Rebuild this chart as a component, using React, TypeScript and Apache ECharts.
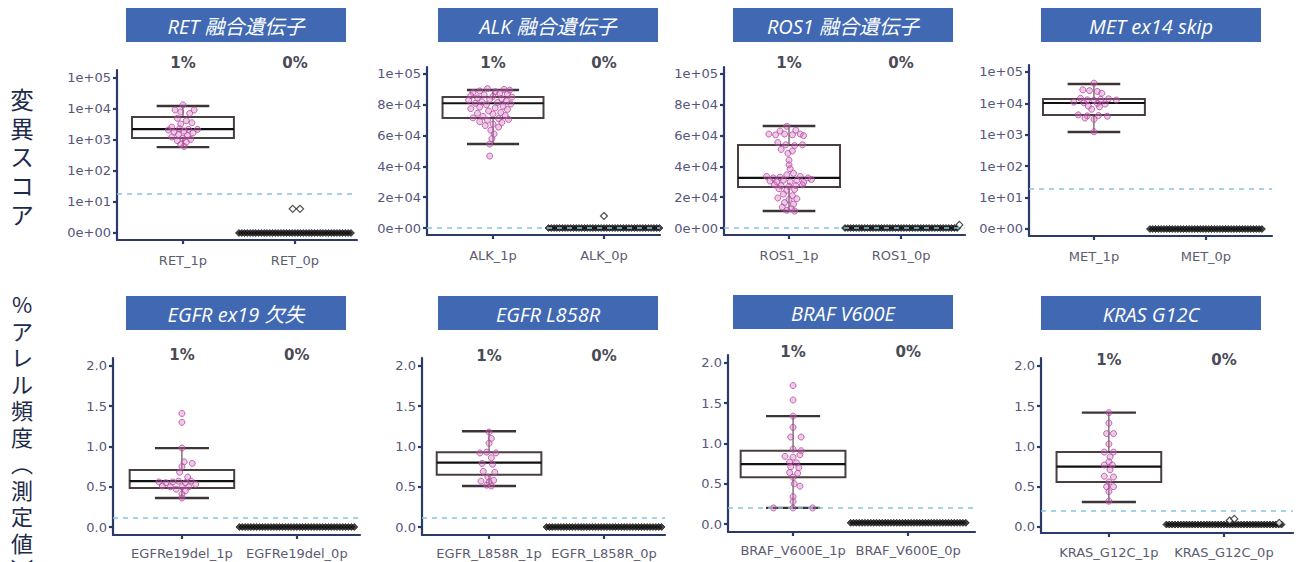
import React, { useEffect, useRef } from "react";
import * as echarts from "echarts";

// ---------- tick values ----------
const LOG_TICKS = [1, 10, 100, 1000, 10000, 100000];
const LIN_TICKS = [0, 20000, 40000, 60000, 80000, 100000];
const AF_TICKS = [0, 0.5, 1, 1.5, 2];
const PCT_LABELS = ["1%", "0%"];

// ---------- titles / labels ----------
const TITLES = [
  "RET 融合遺伝子",
  "ALK 融合遺伝子",
  "ROS1 融合遺伝子",
  "MET ex14 skip",
  "EGFR ex19 欠失",
  "EGFR L858R",
  "BRAF V600E",
  "KRAS G12C",
];
const Y_LABEL_TOP = "変異スコア";
const Y_LABEL_BOTTOM = "%アレル頻度︵測定値︶";

// ---------- categories ----------
const RET_CATS = ["RET_1p", "RET_0p"];
const ALK_CATS = ["ALK_1p", "ALK_0p"];
const ROS1_CATS = ["ROS1_1p", "ROS1_0p"];
const MET_CATS = ["MET_1p", "MET_0p"];
const EGFR19_CATS = ["EGFRe19del_1p", "EGFRe19del_0p"];
const L858R_CATS = ["EGFR_L858R_1p", "EGFR_L858R_0p"];
const BRAF_CATS = ["BRAF_V600E_1p", "BRAF_V600E_0p"];
const KRAS_CATS = ["KRAS_G12C_1p", "KRAS_G12C_0p"];

// ---------- box stats: [min, q1, median, q3, max] of the 1p group ----------
const RET_BOX = [590, 1150, 2250, 5500, 12500];
const ALK_BOX = [54500, 71400, 81000, 85000, 89600];
const ROS1_BOX = [11000, 26600, 32500, 53900, 66200];
const MET_BOX = [1230, 4300, 10300, 13800, 41500];
const EGFR19_BOX = [0.36, 0.485, 0.57, 0.708, 0.98];
const L858R_BOX = [0.51, 0.65, 0.8, 0.93, 1.19];
const BRAF_BOX = [0.2, 0.58, 0.745, 0.91, 1.34];
const KRAS_BOX = [0.31, 0.56, 0.75, 0.93, 1.42];

// ---------- detection cut-offs ----------
const RET_CUTOFF = 18;
const ALK_CUTOFF = 0;
const ROS1_CUTOFF = 0;
const MET_CUTOFF = 19;
const EGFR19_CUTOFF = 0.12;
const L858R_CUTOFF = 0.12;
const BRAF_CUTOFF = 0.2;
const KRAS_CUTOFF = 0.2;

// ---------- 1p points: [jitter, value] ----------
const RET_1P = [
  [0.0, 13500], [-0.07, 9300], [0.1, 9300], [-0.02, 8000], [0.06, 7200], [-0.05, 5000],
  [0.03, 4200], [-0.02, 3300], [0.08, 3600], [-0.1, 2600], [-0.03, 2300], [0.05, 2200],
  [0.13, 2200], [-0.13, 2100], [0.01, 1950], [-0.08, 1800], [0.09, 1700], [-0.04, 1500],
  [0.04, 1400], [-0.1, 1250], [0.0, 1150], [0.07, 1050], [-0.05, 950], [0.03, 850],
  [-0.02, 720], [0.01, 620],
];
const ALK_1P = [
  [-0.05, 90500], [0.1, 90000], [0.15, 89500], [-0.12, 89000], [0.02, 88500], [-0.18, 88000],
  [0.06, 87500], [0.13, 87000], [-0.08, 86500], [-0.2, 86000], [0.0, 85500], [0.17, 85000],
  [-0.14, 84500], [0.08, 84000], [-0.03, 83500], [-0.22, 83000], [0.12, 82500], [-0.1, 82000],
  [0.04, 81500], [-0.16, 81000], [0.16, 80500], [-0.06, 80000], [0.09, 79000], [-0.12, 78500],
  [0.02, 78000], [-0.2, 77500], [0.13, 77000], [-0.04, 76000], [0.07, 75000], [-0.14, 74500],
  [0.0, 74000], [0.11, 73000], [-0.09, 72500], [-0.18, 71500], [0.05, 71000], [0.14, 70500],
  [-0.05, 70000], [-0.12, 69000], [0.08, 68500], [0.0, 67500], [-0.07, 66500], [0.05, 65500],
  [-0.02, 63500], [0.01, 61000], [-0.01, 58000], [-0.03, 54500], [-0.03, 46700],
];
const ROS1_1P = [
  [-0.02, 66000], [-0.08, 63000], [0.06, 63500], [-0.18, 61000], [-0.12, 60500], [-0.04, 61000],
  [0.03, 60500], [0.1, 61000], [0.13, 60000], [-0.1, 55500], [-0.03, 54000], [0.05, 53500],
  [0.12, 54000], [-0.07, 51000], [0.03, 50000], [-0.01, 48500], [0.0, 44000], [0.0, 41000],
  [0.01, 38500], [-0.2, 33500], [-0.14, 32500], [-0.08, 33000], [-0.02, 34500], [0.04, 35500],
  [0.1, 33500], [0.17, 32500], [0.2, 31500], [-0.17, 30500], [-0.11, 30000], [-0.05, 31000],
  [0.01, 30000], [0.07, 31000], [0.13, 29500], [-0.13, 28000], [-0.07, 27500], [0.0, 27000],
  [0.06, 27500], [0.12, 28000], [-0.09, 25500], [-0.02, 24500], [0.05, 25000], [-0.05, 22000],
  [0.03, 21000], [-0.1, 19500], [0.0, 18500], [0.07, 19000], [-0.04, 16500], [0.04, 15500],
  [-0.06, 13500], [0.02, 12500], [-0.02, 11500], [0.05, 11000],
];
const MET_1P = [
  [0.0, 44000], [-0.1, 27000], [-0.04, 25500], [0.03, 24000], [0.07, 21000], [-0.12, 14500],
  [-0.06, 13000], [0.0, 12500], [0.06, 13500], [0.13, 14000], [0.2, 12800], [-0.18, 11000],
  [-0.09, 10500], [0.03, 10000], [0.1, 9500], [-0.05, 8200], [0.05, 7800], [-0.02, 6500],
  [-0.14, 4300], [-0.06, 4000], [0.04, 4100], [0.12, 3900], [0.0, 3100], [-0.08, 3400],
  [0.0, 1250],
];
const EGFR19_1P = [
  [0.0, 1.41], [0.0, 1.3], [0.0, 0.98], [0.02, 0.81], [0.09, 0.79], [0.0, 0.75], [-0.02, 0.68],
  [0.05, 0.62], [-0.2, 0.56], [-0.14, 0.55], [-0.08, 0.56], [-0.03, 0.57], [0.03, 0.55],
  [0.08, 0.57], [0.12, 0.53], [-0.17, 0.51], [-0.1, 0.5], [0.0, 0.5], [0.06, 0.5],
  [-0.05, 0.47], [0.03, 0.45], [0.0, 0.41], [0.0, 0.36],
];
const L858R_1P = [
  [0.0, 1.18], [0.02, 1.1], [0.0, 1.04], [-0.08, 0.92], [-0.02, 0.93], [0.06, 0.92],
  [0.02, 0.86], [-0.06, 0.79], [0.03, 0.78], [-0.05, 0.69], [0.05, 0.68], [-0.01, 0.62],
  [-0.07, 0.57], [0.0, 0.56], [0.04, 0.58], [-0.02, 0.52], [0.02, 0.51],
];
const BRAF_1P = [
  [0.0, 1.72], [0.0, 1.54], [0.0, 1.34], [0.0, 1.2], [-0.02, 1.08], [0.07, 1.08], [0.0, 0.93],
  [0.07, 0.91], [-0.07, 0.84], [0.0, 0.83], [0.06, 0.86], [-0.03, 0.77], [0.03, 0.76],
  [-0.02, 0.71], [0.05, 0.7], [-0.03, 0.64], [0.04, 0.63], [0.0, 0.58], [0.01, 0.5],
  [0.06, 0.47], [0.0, 0.34], [0.0, 0.28], [-0.17, 0.2], [0.0, 0.2], [0.17, 0.2],
];
const KRAS_1P = [
  [0.0, 1.42], [0.0, 1.29], [-0.02, 1.16], [0.04, 1.16], [0.0, 1.03], [-0.04, 0.93],
  [0.04, 0.93], [0.01, 0.87], [0.0, 0.81], [-0.04, 0.77], [0.03, 0.77], [0.01, 0.71],
  [-0.04, 0.63], [0.04, 0.62], [0.0, 0.56], [-0.02, 0.5], [0.04, 0.5], [0.0, 0.44], [0.0, 0.32],
];

// ---------- 0p group: a dense row of samples at the floor value, plus a few above ----------
const ZERO_ROW_JITTER = [
  -0.5, -0.475, -0.45, -0.425, -0.4, -0.375, -0.35, -0.325, -0.3, -0.275, -0.25, -0.225, -0.2,
  -0.175, -0.15, -0.125, -0.1, -0.075, -0.05, -0.025, 0, 0.025, 0.05, 0.075, 0.1, 0.125, 0.15,
  0.175, 0.2, 0.225, 0.25, 0.275, 0.3, 0.325, 0.35, 0.375, 0.4, 0.425, 0.45, 0.475, 0.5,
];
const RET_0P_LEVEL = 0;
const ALK_0P_LEVEL = 0;
const ROS1_0P_LEVEL = 0;
const MET_0P_LEVEL = 0;
const EGFR19_0P_LEVEL = 0;
const L858R_0P_LEVEL = 0;
const BRAF_0P_LEVEL = 0.015;
const KRAS_0P_LEVEL = 0.03;
const RET_0P_EXTRA = [[-0.02, 6], [0.045, 6]];
const ALK_0P_EXTRA = [[0.0, 7800]];
const ROS1_0P_EXTRA = [[0.52, 2000]];
const MET_0P_EXTRA: number[][] = [];
const EGFR19_0P_EXTRA: number[][] = [];
const L858R_0P_EXTRA: number[][] = [];
const BRAF_0P_EXTRA: number[][] = [];
const KRAS_0P_EXTRA = [[0.05, 0.08], [0.09, 0.1], [0.48, 0.05]];

// ---------- layout (pixels) & styling ----------
const AXIS_COLOR = "#2b3a67";
const TICK_LABEL_COLOR = "#56567a";
const CAT_LABEL_COLOR = "#5c5c70";
const HEAD_COLOR = "#4169b3";
const BOX_HALF = 0.455;
const CAP_HALF = 0.235;

type Panel = {
  cats: string[]; pct: boolean; scale: "log" | "lin" | "af";
  box: number[]; pts: number[][]; level: number; extra: number[][]; cutoff: number;
  grid: { left: number; top: number; width: number; height: number };
  x: [number, number]; y: [number, number]; head: [number, number]; pctMargin: number; catMargin: number;
};

const PANELS: Panel[] = [
  { cats: RET_CATS, pct: true, scale: "log", box: RET_BOX, pts: RET_1P, level: RET_0P_LEVEL, extra: RET_0P_EXTRA, cutoff: RET_CUTOFF,
    grid: { left: 117, top: 70, width: 240, height: 170 }, x: [-0.589, 1.554], y: [0.5944, 181000], head: [126, 8], pctMargin: -0.5, catMargin: 14 },
  { cats: ALK_CATS, pct: true, scale: "lin", box: ALK_BOX, pts: ALK_1P, level: ALK_0P_LEVEL, extra: ALK_0P_EXTRA, cutoff: ALK_CUTOFF,
    grid: { left: 427, top: 67, width: 233, height: 168 }, x: [-0.595, 1.505], y: [-4545, 104545], head: [438, 8], pctMargin: -3.5, catMargin: 14 },
  { cats: ROS1_CATS, pct: true, scale: "lin", box: ROS1_BOX, pts: ROS1_1P, level: ROS1_0P_LEVEL, extra: ROS1_0P_EXTRA, cutoff: ROS1_CUTOFF,
    grid: { left: 724, top: 67, width: 241, height: 168 }, x: [-0.58, 1.57], y: [-4545, 104545], head: [733, 8], pctMargin: -3.5, catMargin: 14 },
  { cats: MET_CATS, pct: false, scale: "log", box: MET_BOX, pts: MET_1P, level: MET_0P_LEVEL, extra: MET_0P_EXTRA, cutoff: MET_CUTOFF,
    grid: { left: 1029, top: 65, width: 243, height: 171 }, x: [-0.58, 1.59], y: [0.598, 167000], head: [1041, 8], pctMargin: 0, catMargin: 14 },
  { cats: EGFR19_CATS, pct: true, scale: "af", box: EGFR19_BOX, pts: EGFR19_1P, level: EGFR19_0P_LEVEL, extra: EGFR19_0P_EXTRA, cutoff: EGFR19_CUTOFF,
    grid: { left: 113, top: 358, width: 247, height: 177 }, x: [-0.6, 1.55], y: [-0.099, 2.099], head: [126, 296], pctMargin: -4.5, catMargin: 12 },
  { cats: L858R_CATS, pct: true, scale: "af", box: L858R_BOX, pts: L858R_1P, level: L858R_0P_LEVEL, extra: L858R_0P_EXTRA, cutoff: L858R_CUTOFF,
    grid: { left: 422, top: 358, width: 243, height: 177 }, x: [-0.583, 1.53], y: [-0.099, 2.099], head: [438, 296], pctMargin: -5.5, catMargin: 12 },
  { cats: BRAF_CATS, pct: true, scale: "af", box: BRAF_BOX, pts: BRAF_1P, level: BRAF_0P_LEVEL, extra: BRAF_0P_EXTRA, cutoff: BRAF_CUTOFF,
    grid: { left: 728, top: 355, width: 247, height: 177 }, x: [-0.565, 1.58], y: [-0.099, 2.099], head: [733, 295], pctMargin: -4.5, catMargin: 12 },
  { cats: KRAS_CATS, pct: true, scale: "af", box: KRAS_BOX, pts: KRAS_1P, level: KRAS_0P_LEVEL, extra: KRAS_0P_EXTRA, cutoff: KRAS_CUTOFF,
    grid: { left: 1041, top: 358, width: 252, height: 175 }, x: [-0.59, 1.6], y: [-0.075, 2.099], head: [1041, 296], pctMargin: -9.5, catMargin: 13 },
];

function sciLabel(v: number, isLog: boolean): string {
  if (v === 0 || (isLog && Math.abs(v - 1) < 1e-9)) return "0e+00";
  const e = Math.floor(Math.log10(v) + 1e-9);
  const m = Math.round(v / Math.pow(10, e));
  return `${m}e+${String(e).padStart(2, "0")}`;
}

function verticalLabel(text: string, x: number, top: number, fontSize: number, step: number) {
  return text.split("").map((ch, k) => ({
    type: "text", silent: true, x, y: top + step * k + step / 2,
    style: {
      text: ch, fill: "#1d2b4a", fontSize,
      fontFamily: '"Noto Sans CJK JP", sans-serif', align: "center", verticalAlign: "middle",
    },
  }));
}

function buildOption() {
  const grid: any[] = [];
  const xAxis: any[] = [];
  const yAxis: any[] = [];
  const series: any[] = [];
  const graphic: any[] = [];
  const axisLineStyle = { color: AXIS_COLOR, width: 2.2 };

  PANELS.forEach((p, i) => {
    const isLog = p.scale === "log";
    const ticks = isLog ? LOG_TICKS : p.scale === "lin" ? LIN_TICKS : AF_TICKS;
    const floor = (v: number) => (isLog && v <= 0 ? 1 : v);

    grid.push({ ...p.grid, outerBoundsMode: "none", containLabel: false });

    xAxis.push({
      gridIndex: i, type: "value", min: p.x[0], max: p.x[1], position: "bottom",
      axisLine: { show: true, onZero: false, lineStyle: axisLineStyle },
      axisTick: { show: true, customValues: [0, 1], length: 4, lineStyle: axisLineStyle },
      axisLabel: {
        customValues: [0, 1], formatter: (v: number) => p.cats[Math.round(v)],
        margin: p.catMargin, fontSize: 13, color: CAT_LABEL_COLOR, fontFamily: "DejaVu Sans",
      },
      splitLine: { show: false },
    });
    xAxis.push({
      gridIndex: i, type: "value", min: p.x[0], max: p.x[1], position: "top",
      axisLine: { show: false }, axisTick: { show: false }, splitLine: { show: false },
      axisLabel: {
        show: p.pct, customValues: [0, 1], formatter: (v: number) => PCT_LABELS[Math.round(v)],
        margin: p.pctMargin, fontSize: 15, fontWeight: "bold", color: "#4a4a55", fontFamily: "DejaVu Sans",
      },
    });
    yAxis.push({
      gridIndex: i, type: isLog ? "log" : "value", logBase: 10, min: p.y[0], max: p.y[1],
      axisLine: { show: true, onZero: false, lineStyle: axisLineStyle },
      axisTick: { show: true, customValues: ticks, length: 4, lineStyle: axisLineStyle },
      axisLabel: {
        customValues: ticks,
        formatter: (v: number) => (p.scale === "af" ? v.toFixed(1) : sciLabel(v, isLog)),
        margin: 6, fontSize: 13, color: TICK_LABEL_COLOR, fontFamily: "DejaVu Sans",
      },
      splitLine: { show: false },
    });

    const xi = 2 * i;

    series.push({
      type: "custom", xAxisIndex: xi, yAxisIndex: i, z: 2, silent: true,
      encode: { x: 0, y: [1, 2, 3, 4, 5] },
      data: [[0, ...p.box]],
      renderItem: (_params: any, api: any) => {
        const c = api.value(0);
        const mn = api.value(1), q1 = api.value(2), md = api.value(3), q3 = api.value(4), mx = api.value(5);
        const tl = api.coord([c - BOX_HALF, q3]);
        const br = api.coord([c + BOX_HALF, q1]);
        const mL = api.coord([c - BOX_HALF, md]);
        const mR = api.coord([c + BOX_HALF, md]);
        const wTop = api.coord([c, mx]);
        const wBot = api.coord([c, mn]);
        const bTop = api.coord([c, q3]);
        const bBot = api.coord([c, q1]);
        const cTL = api.coord([c - CAP_HALF, mx]);
        const cTR = api.coord([c + CAP_HALF, mx]);
        const cBL = api.coord([c - CAP_HALF, mn]);
        const cBR = api.coord([c + CAP_HALF, mn]);
        const whisk = { stroke: "#3a3333", lineWidth: 1 };
        const cap = { stroke: "#3d3535", lineWidth: 2.4 };
        return {
          type: "group",
          children: [
            { type: "line", shape: { x1: wTop[0], y1: wTop[1], x2: bTop[0], y2: bTop[1] }, style: whisk },
            { type: "line", shape: { x1: bBot[0], y1: bBot[1], x2: wBot[0], y2: wBot[1] }, style: whisk },
            { type: "line", shape: { x1: cTL[0], y1: cTL[1], x2: cTR[0], y2: cTR[1] }, style: cap },
            { type: "line", shape: { x1: cBL[0], y1: cBL[1], x2: cBR[0], y2: cBR[1] }, style: cap },
            {
              type: "rect",
              shape: { x: tl[0], y: tl[1], width: br[0] - tl[0], height: br[1] - tl[1] },
              style: { fill: "rgba(255,255,255,0)", stroke: "#4a3f3f", lineWidth: 2 },
            },
            { type: "line", shape: { x1: mL[0], y1: mL[1], x2: mR[0], y2: mR[1] }, style: { stroke: "#111", lineWidth: 2.2 } },
          ],
        };
      },
    });

    series.push({
      type: "scatter", xAxisIndex: xi, yAxisIndex: i, z: 3, silent: true,
      symbol: "circle", symbolSize: 6,
      itemStyle: { color: "rgba(205,110,190,0.45)", borderColor: "#b8479f", borderWidth: 1 },
      data: p.pts.map(([dx, v]) => [0 + dx, v]),
      markLine: {
        silent: true, symbol: ["none", "none"], label: { show: false },
        lineStyle: { color: "#86c5df", type: [5, 5], width: 1.6 },
        data: [{ yAxis: floor(p.cutoff) }],
      },
    });

    series.push({
      type: "scatter", xAxisIndex: xi, yAxisIndex: i, z: 3, silent: true,
      symbol: "diamond", symbolSize: 7,
      itemStyle: { color: "#1a1a1a", borderColor: "#000", borderWidth: 0.8 },
      data: ZERO_ROW_JITTER.map((dx) => [1 + dx, floor(p.level)]),
    });

    if (p.extra.length) {
      series.push({
        type: "scatter", xAxisIndex: xi, yAxisIndex: i, z: 4, silent: true,
        symbol: "diamond", symbolSize: 7,
        itemStyle: { color: "#fff", borderColor: "#222", borderWidth: 1.2 },
        data: p.extra.map(([dx, v]) => [1 + dx, v]),
      });
    }

    graphic.push({
      type: "rect", silent: true,
      shape: { x: p.head[0], y: p.head[1], width: 220, height: 34 },
      style: { fill: HEAD_COLOR },
    });
    graphic.push({
      type: "text", silent: true,
      x: p.head[0] + 110, y: p.head[1] + 18,
      style: {
        text: TITLES[i], fill: "#ffffff", fontSize: 20, fontStyle: "italic",
        fontFamily: '"Open Sans", "Noto Sans CJK JP", sans-serif',
        align: "center", verticalAlign: "middle",
      },
    });
  });

  graphic.push(...verticalLabel(Y_LABEL_TOP, 22, 84.6, 23.5, 28.7));
  graphic.push(...verticalLabel(Y_LABEL_BOTTOM, 22, 290, 22, 26.5));

  return {
    animation: false,
    backgroundColor: "#ffffff",
    grid, xAxis, yAxis, series, graphic,
  };
}

export default function App() {
  const ref = useRef<HTMLDivElement>(null);
  useEffect(() => {
    document.body.style.margin = "0";
    if (!ref.current) return;
    const chart = echarts.init(ref.current, undefined, { renderer: "svg" });
    chart.setOption(buildOption() as any);
    return () => chart.dispose();
  }, []);
  return <div ref={ref} style={{ width: 1300, height: 562 }} />;
}
